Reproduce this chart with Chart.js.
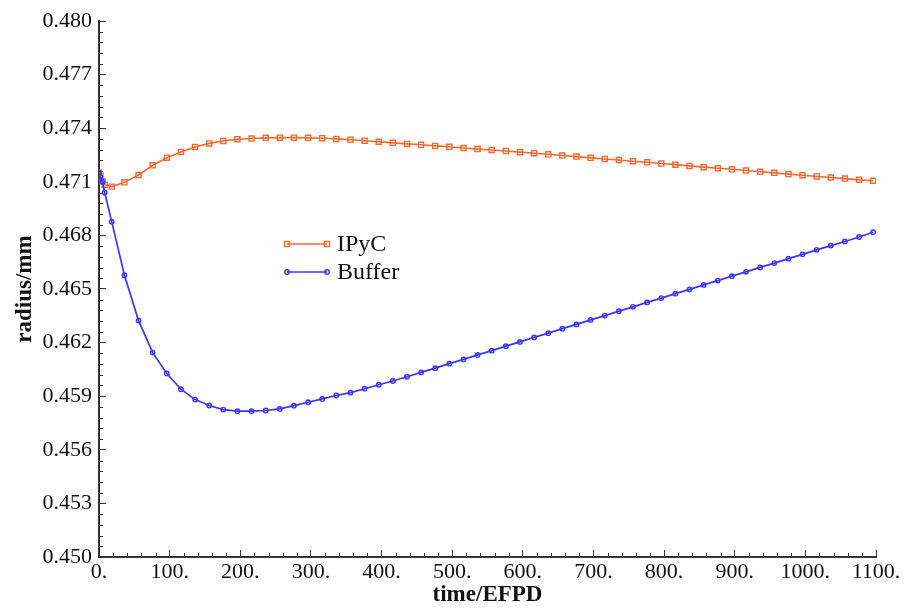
<!DOCTYPE html>
<html>
<head>
<meta charset="utf-8">
<script src="https://cdn.jsdelivr.net/npm/chart.js@4.4.1/dist/chart.umd.min.js"></script>
<style>
	html, body { margin: 0; padding: 0; background: #fff; }
	#wrap { width: 906px; height: 611px; }
</style>
</head>
<body>
<div id="wrap"><canvas id="chart" width="906" height="611"></canvas></div>
<script>
// time/EFPD, shared by both curves
const times = [0, 2, 5, 8, 18, 36, 56, 76, 96, 116, 136, 156, 176, 196, 216, 236, 256, 276, 296, 316,
	336, 356, 376, 396, 416, 436, 456, 476, 496, 516, 536, 556, 576, 596, 616, 636, 656, 676, 696, 716,
	736, 756, 776, 796, 816, 836, 856, 876, 896, 916, 936, 956, 976, 996, 1016, 1036, 1056, 1076, 1096];

const ipyc = [0.47150, 0.47132, 0.47103, 0.47084, 0.47073, 0.47097, 0.47138, 0.47192, 0.47235, 0.47267,
	0.47295, 0.47315, 0.47328, 0.47338, 0.47342, 0.47346, 0.47347, 0.47347, 0.47346, 0.47344,
	0.47340, 0.47335, 0.47330, 0.47324, 0.47318, 0.47312, 0.47307, 0.47301, 0.47296, 0.47289,
	0.47283, 0.47278, 0.47272, 0.47266, 0.47260, 0.47254, 0.47247, 0.47241, 0.47234, 0.47228,
	0.47222, 0.47215, 0.47209, 0.47202, 0.47196, 0.47189, 0.47182, 0.47176, 0.47170, 0.47163,
	0.47156, 0.47150, 0.47143, 0.47137, 0.47130, 0.47124, 0.47118, 0.47111, 0.47106];

const buffer = [0.47148, 0.47128, 0.47100, 0.47040, 0.46877, 0.46577, 0.46323, 0.46144, 0.46027, 0.45939,
	0.45881, 0.45848, 0.45825, 0.45816, 0.45816, 0.45820, 0.45829, 0.45847, 0.45866, 0.45885,
	0.45904, 0.45920, 0.45942, 0.45964, 0.45985, 0.46009, 0.46033, 0.46057, 0.46082, 0.46106,
	0.46131, 0.46155, 0.46180, 0.46204, 0.46229, 0.46253, 0.46278, 0.46302, 0.46327, 0.46351,
	0.46376, 0.46400, 0.46425, 0.46449, 0.46474, 0.46498, 0.46523, 0.46547, 0.46572, 0.46596,
	0.46621, 0.46645, 0.46670, 0.46694, 0.46719, 0.46743, 0.46766, 0.46791, 0.46818];

const xTicks = [0, 100, 200, 300, 400, 500, 600, 700, 800, 900, 1000, 1100];
const yTicks = [0.450, 0.453, 0.456, 0.459, 0.462, 0.465, 0.468, 0.471, 0.474, 0.477, 0.480];

const orange = '#F36A30';
const blue = '#3838F8';
const axisColor = '#333';
const serif = "'Liberation Serif', 'Times New Roman', serif";

// small ticks between the labelled ones, 4 per interval, pointing inwards
const minorTicks = {
	id: 'minorTicks',
	afterDraw(chart) {
		const {ctx, chartArea, scales: {x, y}} = chart;
		ctx.save();
		ctx.strokeStyle = axisColor;
		ctx.lineWidth = 1;
		ctx.beginPath();
		for (let i = 0; i < xTicks.length - 1; i++) {
			for (let k = 1; k < 5; k++) {
				const px = Math.round(x.getPixelForValue(xTicks[i] + (xTicks[i + 1] - xTicks[i]) * k / 5)) + 0.5;
				ctx.moveTo(px, chartArea.bottom);
				ctx.lineTo(px, chartArea.bottom - 4);
			}
		}
		for (let i = 0; i < yTicks.length - 1; i++) {
			for (let k = 1; k < 5; k++) {
				const py = Math.round(y.getPixelForValue(yTicks[i] + (yTicks[i + 1] - yTicks[i]) * k / 5)) + 0.5;
				ctx.moveTo(chartArea.left, py);
				ctx.lineTo(chartArea.left + 4, py);
			}
		}
		ctx.stroke();
		ctx.restore();
	}
};

// legend sitting inside the plot, like the original
const insideLegend = {
	id: 'insideLegend',
	afterDraw(chart) {
		const ctx = chart.ctx;
		const rows = [{y: 244, ds: 0}, {y: 272, ds: 1}];
		const x1 = 287, x2 = 327, textX = 337;

		rows.forEach(row => {
			const ds = chart.data.datasets[row.ds];
			ctx.save();
			ctx.strokeStyle = ds.borderColor;
			ctx.lineWidth = ds.borderWidth;
			ctx.beginPath();
			ctx.moveTo(x1, row.y);
			ctx.lineTo(x2, row.y);
			ctx.stroke();

			ctx.lineWidth = ds.pointBorderWidth;
			[x1, x2].forEach(px => {
				ctx.beginPath();
				if (ds.pointStyle === 'rect') {
					const s = ds.pointRadius * Math.SQRT1_2;
					ctx.rect(px - s, row.y - s, 2 * s, 2 * s);
				} else {
					ctx.arc(px, row.y, ds.pointRadius, 0, Math.PI * 2);
				}
				ctx.stroke();
			});

			ctx.fillStyle = '#111';
			ctx.font = `24px ${serif}`;
			ctx.textBaseline = 'middle';
			ctx.fillText(ds.label, textX, row.y + 1);
			ctx.restore();
		});
	}
};

const ctx = document.getElementById('chart').getContext('2d');

new Chart(ctx, {
	type: 'line',
	data: {
		datasets: [
			{
				label: 'IPyC',
				data: times.map((t, i) => ({x: t, y: ipyc[i]})),
				borderColor: orange,
				borderWidth: 1.6,
				pointStyle: 'rect',
				pointRadius: 3.6,
				pointBorderWidth: 1.4,
				pointBorderColor: orange,
				pointBackgroundColor: 'rgba(0, 0, 0, 0)',
				tension: 0,
				order: 1,
			},
			{
				label: 'Buffer',
				data: times.map((t, i) => ({x: t, y: buffer[i]})),
				borderColor: blue,
				borderWidth: 1.7,
				pointStyle: 'circle',
				pointRadius: 2.2,
				pointBorderWidth: 1.4,
				pointBorderColor: blue,
				pointBackgroundColor: 'rgba(0, 0, 0, 0)',
				tension: 0,
				order: 0,
			}
		]
	},
	options: {
		responsive: false,
		animation: false,
		events: [],
		layout: {
			padding: {top: 21, right: 30, bottom: 0, left: 0}
		},
		plugins: {
			legend: {display: false},
			tooltip: {enabled: false}
		},
		scales: {
			x: {
				type: 'linear',
				min: 0,
				max: 1100,
				afterBuildTicks: scale => { scale.ticks = xTicks.map(v => ({value: v})); },
				afterFit: scale => {
					scale.height = 54;
					scale.paddingLeft = 0;
					scale.paddingRight = 0;
				},
				border: {display: true, color: axisColor, width: 2},
				grid: {drawOnChartArea: false, drawTicks: true, tickLength: -7, color: axisColor, lineWidth: 1},
				ticks: {
					color: '#111',
					padding: 9,
					maxRotation: 0,
					font: {family: serif, size: 22},
					callback: value => value + '.'
				},
				title: {
					display: true,
					text: 'time/EFPD',
					color: '#111',
					font: {family: serif, size: 23, weight: 'bold'},
					padding: {top: 0, bottom: 2}
				}
			},
			y: {
				type: 'linear',
				min: 0.450,
				max: 0.480,
				afterBuildTicks: scale => { scale.ticks = yTicks.map(v => ({value: v})); },
				afterFit: scale => {
					scale.width = 99;
					scale.paddingTop = 0;
					scale.paddingBottom = 0;
				},
				border: {display: true, color: axisColor, width: 2},
				grid: {drawOnChartArea: false, drawTicks: true, tickLength: -7, color: axisColor, lineWidth: 1},
				ticks: {
					color: '#111',
					padding: 14,
					font: {family: serif, size: 22},
					callback: value => value.toFixed(3)
				},
				title: {
					display: true,
					text: 'radius/mm',
					color: '#111',
					font: {family: serif, size: 23, weight: 'bold'},
					padding: {top: 11, bottom: 0}
				}
			}
		}
	},
	plugins: [minorTicks, insideLegend]
});
</script>
</body>
</html>
